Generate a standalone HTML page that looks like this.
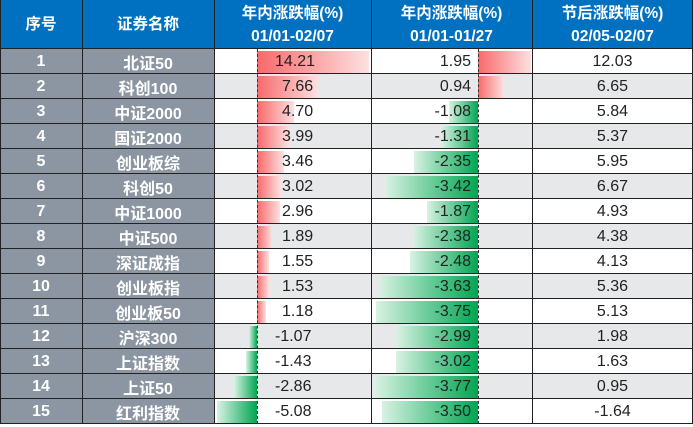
<!DOCTYPE html>
<html><head><meta charset="utf-8"><style>
body{margin:0;width:693px;height:427px;background:#fff;overflow:hidden;font-family:"Liberation Sans","Noto Sans CJK SC",sans-serif;}
#t{position:absolute;left:0;top:0;width:693px;height:427px;}
.c{position:absolute;box-sizing:border-box;display:flex;align-items:center;justify-content:center;font-size:16px;color:#222;}
.h{background:#0070c0;color:#fff;font-weight:bold;font-size:15.5px;line-height:23px;text-align:center;flex-direction:column;}
.k{background:#8c96a2;color:#fff;font-weight:bold;}
.bar{position:absolute;}
.ln{position:absolute;background:#222;}
</style></head><body>
<div id="t"></div>
<script>
const ranks=[1,2,3,4,5,6,7,8,9,10,11,12,13,14,15];
const names=["北证50","科创100","中证2000","国证2000","创业板综","科创50","中证1000","中证500","深证成指","创业板指","创业板50","沪深300","上证指数","上证50","红利指数"];
const ytd=[14.21,7.66,4.70,3.99,3.46,3.02,2.96,1.89,1.55,1.53,1.18,-1.07,-1.43,-2.86,-5.08];
const pre=[1.95,0.94,-1.08,-1.31,-2.35,-3.42,-1.87,-2.38,-2.48,-3.63,-3.75,-2.99,-3.02,-3.77,-3.50];
const post=[12.03,6.65,5.84,5.37,5.95,6.67,4.93,4.38,4.13,5.36,5.13,1.98,1.63,0.95,-1.64];
const headers=[["序号"],["证券名称"],["年内涨跌幅(%)","01/01-02/07"],["年内涨跌幅(%)","01/01-01/27"],["节后涨跌幅(%)","02/05-02/07"]];
const T=document.getElementById('t');
const X=[0,82,214,371,532,693],H0=49,RH=25;
function div(cls,x,y,w,h,html){const d=document.createElement('div');d.className=cls;d.style.cssText=`left:${x}px;top:${y}px;width:${w}px;height:${h}px;`;if(html!==undefined)d.innerHTML=html;T.appendChild(d);return d;}
headers.forEach((hh,i)=>{const d=div('c h',X[i],0,X[i+1]-X[i],H0,hh.map(s=>'<span>'+s+'</span>').join(''));

});
const ax3=257,s3=7.9,ax4=478,s4=27.3;
function bar(x0,y,v,sc){const w=Math.abs(v)*sc;const b=document.createElement('div');b.className='bar';
const left=v>=0?x0:x0-w;
const g=v>=0?'linear-gradient(to right,#f8696b,#fde0e0)':'linear-gradient(to left,#00a651,#d8f2e3)';
b.style.cssText=`left:${left}px;top:${y+2}px;width:${w}px;height:${RH-3}px;background:${g};`;T.appendChild(b);return b;}
ranks.forEach((r,i)=>{const y=H0+i*RH;const bg=i%2?'#e7e8ea':'#fff';
let d=div('c k',X[0],y,X[1]-X[0],RH,r);
d=div('c k',X[1],y,X[2]-X[1],RH,names[i]);
for(let c=2;c<5;c++){div('c',X[c],y,X[c+1]-X[c],RH).style.background=bg;}
let b=bar(ax3,y,ytd[i],s3);
b=bar(ax4,y,pre[i],s4);
d=div('c',X[2],y,157,RH,ytd[i].toFixed(2));d.style.justifyContent='flex-start';d.style.paddingLeft='68px';
if(ytd[i]<0)d.style.paddingLeft='61px';if(ytd[i]>=10)d.style.paddingLeft='61px';
d=div('c',X[3],y,100,RH,pre[i].toFixed(2));d.style.justifyContent='flex-end';
d=div('c',X[4],y,X[5]-X[4],RH,post[i].toFixed(2));
});
for(let i=0;i<=15;i++){const y=H0+i*RH-1;div('ln',0,y,693,1.2);}
X.forEach((x,i)=>{if(i>0&&i<5){div('ln',x,0,1.2,424);}});
div('ln',0,0,1,424);div('ln',692,0,1,424);
[ax3,ax4].forEach(a=>{const l=div('',a,H0,0,375);l.style.position='absolute';l.style.borderLeft='1px dashed #333';});
</script>
</body></html>
